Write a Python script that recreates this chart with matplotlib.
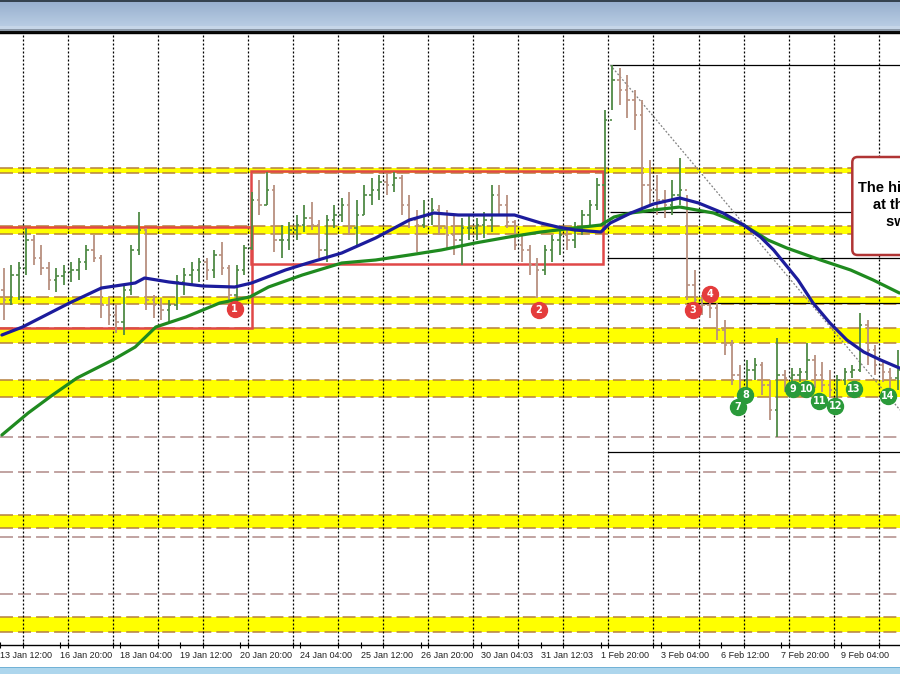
import numpy as np
import matplotlib.pyplot as plt
from matplotlib.patches import Rectangle, FancyBboxPatch

# 4-hour bars, x = trading hours counted from "13 Jan 12:00", price in points
bar_hours = np.arange(120) * 4 + 2
highs = [432, 435, 438, 472, 465, 455, 438, 432, 435, 438,
         442, 455, 465, 445, 402, 395, 415, 455, 488, 472,
         405, 402, 400, 425, 432, 438, 442, 442, 450, 458,
         435, 435, 455, 508, 520, 528, 515, 475, 478, 485,
         495, 498, 480, 485, 495, 502, 508, 500, 515, 522,
         525, 527, 528, 525, 505, 490, 500, 502, 495, 490,
         485, 482, 485, 482, 488, 515, 515, 505, 480, 465,
         455, 442, 455, 465, 472, 470, 478, 490, 500, 522,
         590, 635, 632, 625, 610, 600, 540, 525, 510, 520,
         542, 505, 430, 405, 405, 397, 380, 360, 335, 340,
         342, 338, 320, 362, 330, 332, 332, 357, 345, 338,
         330, 325, 332, 335, 387, 380, 355, 340, 332, 350]
lows = [380, 395, 400, 425, 435, 425, 410, 408, 415, 418,
        420, 430, 438, 382, 375, 367, 365, 405, 445, 390,
        382, 380, 378, 390, 405, 415, 418, 420, 422, 425,
        398, 395, 425, 450, 485, 495, 448, 442, 450, 460,
        468, 470, 442, 438, 472, 478, 465, 455, 485, 495,
        500, 505, 508, 485, 472, 448, 472, 475, 465, 452,
        445, 435, 460, 460, 462, 468, 485, 472, 450, 438,
        425, 402, 425, 438, 445, 450, 452, 465, 475, 490,
        470, 590, 595, 582, 570, 490, 495, 485, 482, 485,
        495, 400, 390, 385, 382, 360, 345, 315, 302, 305,
        320, 305, 280, 263, 308, 315, 318, 320, 312, 308,
        302, 302, 315, 322, 328, 335, 325, 318, 308, 310]
closes = [400, 425, 432, 460, 442, 432, 420, 424, 428, 430,
          438, 450, 442, 395, 385, 378, 410, 450, 470, 400,
          395, 390, 395, 418, 425, 430, 438, 430, 445, 432,
          405, 430, 452, 500, 495, 510, 460, 460, 470, 475,
          482, 475, 450, 480, 485, 495, 472, 485, 505, 510,
          518, 515, 522, 495, 480, 475, 485, 490, 472, 465,
          460, 472, 472, 475, 480, 505, 495, 478, 455, 450,
          435, 430, 450, 460, 465, 460, 470, 485, 495, 515,
          580, 620, 610, 600, 585, 515, 510, 500, 495, 505,
          510, 415, 400, 395, 392, 370, 355, 325, 320, 330,
          335, 315, 290, 325, 322, 325, 328, 340, 325, 315,
          310, 320, 328, 330, 375, 350, 335, 328, 322, 330]
first_open = 410

# moving averages
blue_ma_hours = [1, 12, 37, 54, 72, 77, 90, 108, 125, 134,
                 152, 164, 182, 200, 218, 231, 244, 262, 274, 288,
                 297, 306, 320, 325, 336, 348, 362, 372, 385, 396,
                 405, 412, 425, 433, 442, 451, 460, 469, 479]
blue_ma = [365, 373, 397, 412, 417, 422, 418, 414, 413, 417,
           430, 437, 447, 462, 480, 487, 485, 485, 485, 477,
           473, 470, 468, 477, 487, 496, 502, 497, 487, 475,
           463, 450, 420, 397, 377, 360, 348, 340, 332]
green_ma_hours = [1, 15, 28, 41, 60, 72, 83, 99, 117, 133,
                  143, 161, 182, 200, 218, 235, 253, 271, 288, 306,
                  320, 327, 336, 348, 362, 380, 396, 409, 419, 437,
                  453, 465, 479]
green_ma = [265, 287, 305, 322, 340, 353, 373, 383, 397, 403,
            413, 425, 437, 440, 445, 450, 457, 463, 468, 472,
            475, 483, 487, 490, 493, 487, 475, 460, 452, 440,
            430, 420, 407]

# horizontal levels
yellow_lo = [527, 466, 396, 357, 303, 172, 68]
yellow_hi = [532, 474, 403, 372, 320, 185, 83]
dashed_levels = [263, 228, 163, 106]
black_start = [325, 325, 323, 366, 324]
black_end = [480, 454, 480, 480, 480]
black_price = [635, 488, 442, 397, 248]

# boxes (start hour, end hour, low, high)
box_x0 = [-10, 133.6]
box_x1 = [134.2, 321.1]
box_lo = [372, 436]
box_hi = [473, 529]

red_marker_hours = [125, 287, 369, 378]
red_marker_prices = [391, 390, 390, 406]
red_marker_text = ['1', '2', '3', '4']
green_marker_hours = [393, 397, 422.5, 429.4, 436.3, 444.8, 454.9, 473]
green_marker_prices = [293, 305, 311, 311, 299, 294, 311, 304]
green_marker_text = ['7', '8', '9', '10', '11', '12', '13', '14']

tick_hours = [0, 32, 64, 96, 128, 160, 192, 224, 256, 288, 320, 352, 384, 416, 448]
tick_labels = ['13 Jan 12:00', '16 Jan 20:00', '18 Jan 04:00', '19 Jan 12:00',
               '20 Jan 20:00', '24 Jan 04:00', '25 Jan 12:00', '26 Jan 20:00',
               '30 Jan 04:03', '31 Jan 12:03', '1 Feb 20:00', '3 Feb 04:00',
               '6 Feb 12:00', '7 Feb 20:00', '9 Feb 04:00']
grid_hours = [12 + 24 * k for k in range(20)]

box_text = ['The high stalled near', 'at the 50% of the', 'swing higher']

W, H = 900, 674
fig = plt.figure(figsize=(9, 6.74), dpi=100)

# window title strip at the top
top = fig.add_axes([0, 1 - 33 / H, 1, 33 / H])
rows = []
for i in range(33):
    if i < 2:
        rows.append((0.21, 0.26, 0.31))
    elif i < 26:
        t = (i - 2) / 23
        rows.append((0.60 + 0.12 * t, 0.69 + 0.11 * t, 0.81 + 0.08 * t))
    elif i < 29:
        rows.append((0.78, 0.84, 0.91))
    elif i < 31:
        rows.append((0.55, 0.60, 0.66))
    else:
        rows.append((0.05, 0.05, 0.05))
top.imshow(np.array(rows)[:, None, :], aspect='auto', extent=[0, 1, 0, 1])
top.axis('off')

# light blue strip at the bottom
bot = fig.add_axes([0, 0, 1, 7 / H])
brow = [(0.45, 0.70, 0.84)] + [(0.68, 0.84, 0.93)] * 6
bot.imshow(np.array(brow)[:, None, :], aspect='auto', extent=[0, 1, 0, 1])
bot.axis('off')

ax = fig.add_axes([0, 29 / H, 1, 612 / H])
ax.set_xlim(1.38, 479.3)
ax.set_ylim(55, 667)

for lo, hi in zip(yellow_lo, yellow_hi):
    ax.axhspan(lo, hi, color='#ffff00', lw=0, zorder=0.5)
    for p in (lo, hi):
        ax.axhline(p, color='#b58040', lw=1.1, dashes=(8.5, 3.3), zorder=0.6)
for p in dashed_levels:
    ax.axhline(p, color='#b08a88', lw=1.1, dashes=(8.5, 3.3), zorder=0.6)

for g in grid_hours:
    ax.axvline(g, color='black', lw=0.9, dashes=(1.6, 1.6), zorder=1)

for x0, x1, p in zip(black_start, black_end, black_price):
    ax.hlines(p, x0, x1, color='black', lw=0.9, zorder=1.2)

for x0, x1, lo, hi in zip(box_x0, box_x1, box_lo, box_hi):
    ax.add_patch(Rectangle((x0, lo), x1 - x0, hi - lo, fill=False,
                           ec='#e04848', lw=1.8, zorder=1.5))

ax.plot([325, 479.3], [635, 290], color='#808080', lw=0.9,
        dashes=(1.5, 1.5), zorder=1.3)

# OHLC bars
opens = [first_open] + closes[:-1]
for h, o, hi, lo, c in zip(bar_hours, opens, highs, lows, closes):
    col = '#4f8a45' if c >= o else '#b8907f'
    ax.vlines(h, lo, hi, color=col, lw=1.3, zorder=2)
    ax.hlines(o, h - 1.3, h, color=col, lw=1.2, zorder=2)
    ax.hlines(c, h, h + 1.3, color=col, lw=1.2, zorder=2)

ax.plot(green_ma_hours, green_ma, color='#1f8a1f', lw=2.3, zorder=3,
        solid_capstyle='round')
ax.plot(blue_ma_hours, blue_ma, color='#1c1c9c', lw=2.3, zorder=3.1,
        solid_capstyle='round')

for h, p, t in zip(red_marker_hours, red_marker_prices, red_marker_text):
    ax.plot(h, p, 'o', ms=11.5, color='#e43c3c', mec='#e43c3c', zorder=4)
    ax.text(h, p, t, color='white', fontsize=7, fontweight='bold',
            ha='center', va='center', zorder=5)
for h, p, t in zip(green_marker_hours, green_marker_prices, green_marker_text):
    ax.plot(h, p, 'o', ms=11.5, color='#2a9a3a', mec='#2a9a3a', zorder=4)
    ax.text(h, p, t, color='white', fontsize=7, fontweight='bold',
            ha='center', va='center', zorder=5)

# comment box on the right (cut off by the screenshot edge)
ax.add_patch(FancyBboxPatch((453.9, 445), 90, 98,
                            boxstyle='round,pad=0,rounding_size=2.8',
                            mutation_aspect=1.88, fc='white', ec='#b03434',
                            lw=1.8, zorder=6))
for i, line in enumerate(box_text):
    ax.text(496, 512 - 17 * i, line, ha='center', va='center', fontsize=10.5,
            fontweight='bold', family='Liberation Sans', color='black',
            zorder=7, clip_on=True)

for s in ('left', 'right'):
    ax.spines[s].set_visible(False)
ax.spines['bottom'].set_linewidth(1.0)
ax.spines['top'].set_linewidth(1.0)
ax.set_yticks([])
ax.set_xticks(tick_hours)
ax.set_xticklabels(tick_labels, ha='left', fontsize=6.5,
                   family='Liberation Sans', color='#202020')
ax.set_xticks(grid_hours, minor=True)
ax.tick_params(axis='x', which='both', direction='inout', length=5,
               width=0.8, pad=1.5)

fig.savefig('out.png', dpi=100)
